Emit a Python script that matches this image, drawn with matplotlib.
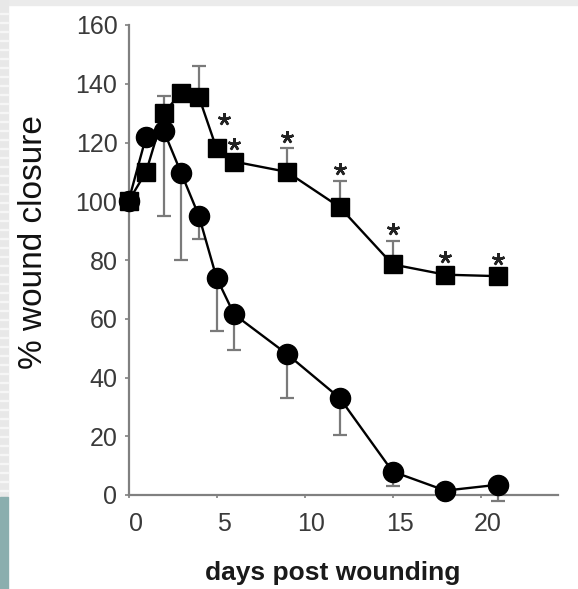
import numpy as np
import matplotlib
matplotlib.use('Agg')
import matplotlib.pyplot as plt
from matplotlib.patches import Rectangle
from matplotlib.transforms import ScaledTranslation

plt.rcParams['font.family'] = ['Liberation Sans Narrow', 'Liberation Sans', 'DejaVu Sans']

# wound closure over time
days = np.array([0, 1, 2, 3, 4, 5, 6, 9, 12, 15, 18, 21])
circle_mean = np.array([100, 122, 124, 109.5, 95, 74, 61.5, 48, 33, 8, 1.5, 3.5])
circle_err = np.array([0, 0, 29, 29.5, 8, 18, 12, 15, 12.5, 5, 2.5, 5.5])
square_mean = np.array([100, 110, 130, 137, 135.5, 118, 113.5, 110, 98, 78.5, 75, 74.5])
square_err = np.array([0, 0, 6, 0, 10.5, 0, 0, 8, 9, 8, 0, 0])
signif_days = [5, 6, 9, 12, 15, 18, 21]

y_ticks = [0, 20, 40, 60, 80, 100, 120, 140, 160]
x_ticks = [0, 5, 10, 15, 20]

W, H = 578, 589
fig = plt.figure(figsize=(W / 100, H / 100), dpi=100)

# slide frame bits around the picture
fig.patches.append(Rectangle((0, 1 - 5 / H), 1, 5 / H, transform=fig.transFigure,
                             color='#ebebeb', zorder=0))
fig.patches.append(Rectangle((0, 92 / H), 8 / W, 1 - 92 / H, transform=fig.transFigure,
                             color='#e8e8e8', zorder=0))
for yy in range(14, 497, 9):
    fig.patches.append(Rectangle((0, 1 - yy / H), 8 / W, 1.2 / H, transform=fig.transFigure,
                                 color='#f6f6f6', zorder=0))
fig.patches.append(Rectangle((0, 0), 8 / W, 92 / H, transform=fig.transFigure,
                             color='#8aaeae', zorder=0))

ax = fig.add_axes([128.5 / W, 1 - 495 / H, (558 - 128.5) / W, 470 / H])
ax.patch.set_alpha(0)

gray = '#7a7a7a'

# error bars: circles go down, squares go up
m = circle_err > 0
ax.errorbar(days[m], circle_mean[m], yerr=[circle_err[m], np.zeros(m.sum())], fmt='none',
            ecolor=gray, elinewidth=1.6, capsize=5, capthick=1.6, zorder=2, clip_on=False)
m = square_err > 0
ax.errorbar(days[m], square_mean[m], yerr=[np.zeros(m.sum()), square_err[m]], fmt='none',
            ecolor=gray, elinewidth=1.6, capsize=5, capthick=1.6, zorder=2, clip_on=False)

ax.plot(days, circle_mean, color='black', lw=1.7, marker='o', ms=14.5, zorder=3, clip_on=False)
ax.plot(days, square_mean, color='black', lw=1.7, marker='s', ms=12.5, zorder=4, clip_on=False)

# significance stars above squares (or their error bar)
for d in signif_days:
    i = list(days).index(d)
    top = square_mean[i] + square_err[i]
    pad = 4 if square_err[i] > 0 else 6
    dx = 0.4 if d == 5 else 0
    ax.plot(d + dx, top + pad + (4 if d == 5 else 0), marker=(5, 2, 0), ms=9, mew=1.8,
            color='#222222', zorder=5, clip_on=False)

ax.set_xlim(0, 24.4)
ax.set_ylim(0, 160)
ax.set_xticks(x_ticks)
ax.set_yticks(y_ticks)

for s in ['top', 'right']:
    ax.spines[s].set_visible(False)
for s in ['left', 'bottom']:
    ax.spines[s].set_color('#808080')
    ax.spines[s].set_linewidth(1.6)

ax.tick_params(axis='y', length=3, width=1.2, color='#808080', pad=5,
               labelsize=18, labelcolor='#3a3a3a')
ax.tick_params(axis='x', length=2, width=1.2, color='#808080', pad=10,
               labelsize=18, labelcolor='#3a3a3a')
shift = ScaledTranslation(7 / 100, 0, fig.dpi_scale_trans)
for lab in ax.get_xticklabels():
    lab.set_transform(lab.get_transform() + shift)

fig.text(333 / W, 1 - 573 / H, 'days post wounding', ha='center', va='center',
         fontsize=19, fontweight='bold', color='#1a1a1a')
fig.text(34 / W, 1 - 242 / H, '% wound closure', ha='center', va='center',
         rotation=90, fontsize=24, color='#111111')

fig.savefig('out.png', dpi=100)
